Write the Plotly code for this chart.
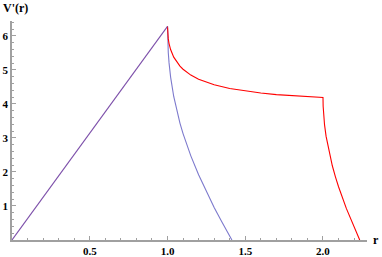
import plotly.graph_objects as go

# shared rising segment
r_rise = [0.0, 1.0]
v_rise = [0.0, 6.283]

# blue series (after r = 1)
r_blue = [1.0, 1.001, 1.005, 1.01, 1.02, 1.04, 1.06, 1.08, 1.1, 1.15, 1.2, 1.25, 1.3, 1.35, 1.4, 1.4142]
v_blue = [6.283, 5.932, 5.513, 5.208, 4.790, 4.220, 3.793, 3.439, 3.130, 2.474, 1.917, 1.419, 0.959, 0.527, 0.112, 0.0]

# red series (after r = 1)
r_red = [1.0, 1.001, 1.005, 1.01, 1.02, 1.04, 1.06, 1.08, 1.1, 1.15, 1.2, 1.25, 1.3, 1.4, 1.5, 1.6, 1.7,
         1.8, 1.9, 2.0, 2.001, 2.005, 2.01, 2.02, 2.04, 2.06, 2.08, 2.1, 2.15, 2.2, 2.22, 2.2361]
v_red = [6.283, 6.111, 5.914, 5.777, 5.600, 5.377, 5.227, 5.113, 5.021, 4.850, 4.729, 4.637, 4.564, 4.454,
         4.378, 4.321, 4.276, 4.241, 4.212, 4.189, 3.935, 3.621, 3.384, 3.047, 2.562, 2.183, 1.858, 1.567,
         0.929, 0.371, 0.163, 0.0]

x_ticks = [0.5, 1.0, 1.5, 2.0]
x_labels = ["0.5", "1.0", "1.5", "2.0"]
y_ticks = [1, 2, 3, 4, 5, 6]
y_labels = ["1", "2", "3", "4", "5", "6"]

fig = go.Figure()
fig.add_trace(go.Scatter(x=r_blue, y=v_blue, mode="lines",
                         line=dict(color="rgb(125,122,205)", width=1.1), hoverinfo="skip"))
fig.add_trace(go.Scatter(x=r_red, y=v_red, mode="lines",
                         line=dict(color="rgb(255,0,0)", width=1.1), hoverinfo="skip"))
fig.add_trace(go.Scatter(x=r_rise, y=v_rise, mode="lines",
                         line=dict(color="rgb(125,80,170)", width=1.1), hoverinfo="skip"))

tickfont = dict(family="Liberation Serif", size=11, color="black", weight="bold")
axis_gray = "rgb(160,160,160)"

fig.update_layout(
    width=382, height=257,
    margin=dict(l=12, r=15, t=21, b=17, autoexpand=False),
    paper_bgcolor="white", plot_bgcolor="white",
    showlegend=False,
    xaxis=dict(range=[0, 2.283], showgrid=False, zeroline=False, automargin=False,
               showline=True, linecolor=axis_gray, linewidth=1.5,
               tickmode="array", tickvals=x_ticks, ticktext=x_labels,
               ticks="inside", ticklen=4, tickwidth=1, tickcolor=axis_gray,
               tickfont=tickfont,
               minor=dict(tickmode="array",
                          tickvals=[0.1, 0.2, 0.3, 0.4, 0.6, 0.7, 0.8, 0.9, 1.1, 1.2, 1.3, 1.4,
                                    1.6, 1.7, 1.8, 1.9, 2.1, 2.2],
                          ticks="inside", ticklen=2.5, tickwidth=1, tickcolor=axis_gray)),
    yaxis=dict(range=[0, 6.44], showgrid=False, zeroline=False, automargin=False,
               showline=True, linecolor=axis_gray, linewidth=1.5,
               tickmode="array", tickvals=y_ticks, ticktext=y_labels,
               ticks="inside", ticklen=4, tickwidth=1, tickcolor=axis_gray,
               tickfont=tickfont,
               minor=dict(tickmode="array",
                          tickvals=[v / 5 for v in range(1, 33) if v % 5 != 0],
                          ticks="inside", ticklen=2.5, tickwidth=1, tickcolor=axis_gray)),
    annotations=[
        dict(text="V'(r)", xref="paper", yref="paper", x=-0.031, y=1.059,
             xanchor="left", yanchor="middle", showarrow=False,
             font=dict(family="Liberation Serif", size=12, color="black", weight="bold")),
        dict(text="r", xref="paper", yref="paper", x=1.012, y=0.0,
             xanchor="left", yanchor="middle", showarrow=False,
             font=dict(family="Liberation Serif", size=12, color="black", weight="bold")),
    ],
)

fig.write_html("out.html",
               config={"displayModeBar": False},
               post_script="document.body.style.margin='0';document.body.style.overflow='hidden';")
